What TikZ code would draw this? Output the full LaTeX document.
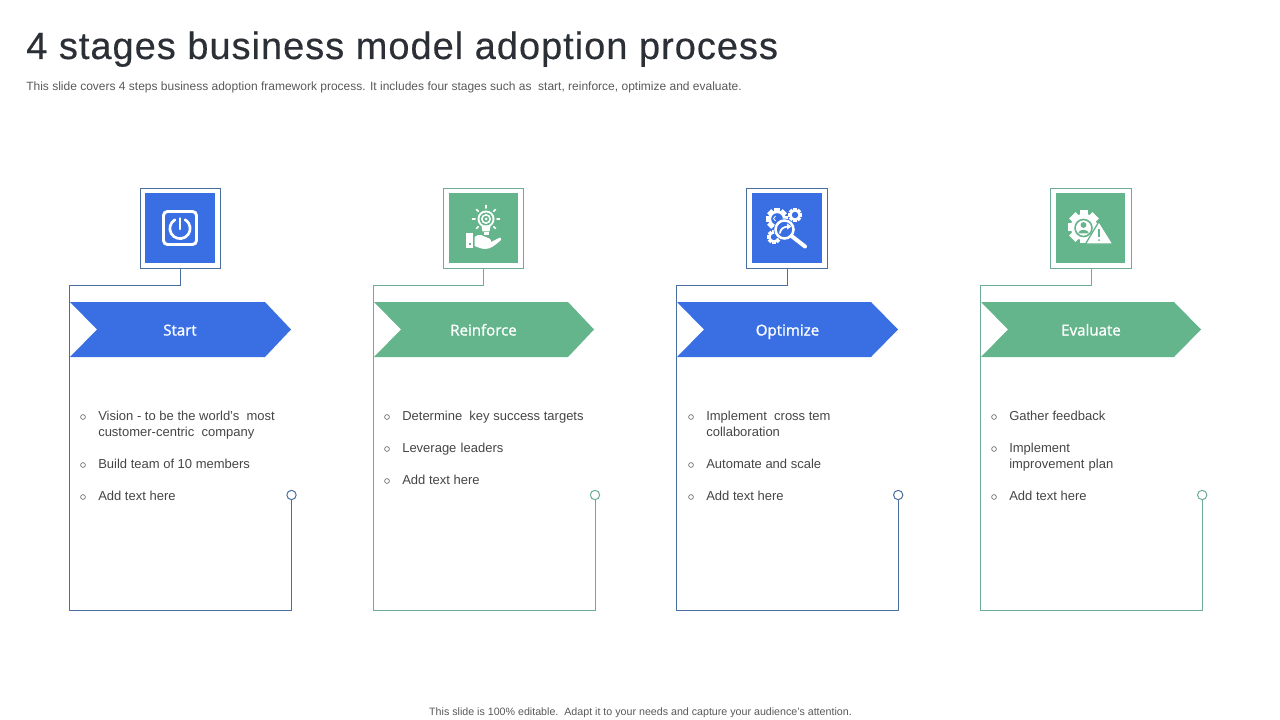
\documentclass[tikz,border=0pt]{standalone}
\usepackage{fontspec}
\setmainfont{Liberation Sans}
\newfontfamily\titlefont[LetterSpace=2.6,FakeBold=0.4]{Liberation Sans}
\newfontfamily\labelfont[FakeBold=1.2]{Open Sans}
\definecolor{cblue}{HTML}{3A6FE4}
\definecolor{cgreen}{HTML}{65B58C}
\definecolor{lblue}{HTML}{4A6E9F}
\definecolor{lgreen}{HTML}{6DAA98}
\definecolor{ink}{HTML}{454545}
\definecolor{subink}{HTML}{595959}
\definecolor{titleink}{HTML}{2B2F36}
\newcommand{\gearshape}[5]{% x,y,outer r,hole r,hole colour
  \foreach \a in {0,45,...,315}{
    \fill[white,rotate around={\a:(#1,#2)}] (#1-#3*0.27,#2-#3) rectangle (#1+#3*0.27,#2);
  }
  \fill[white] (#1,#2) circle[radius=#3*0.8];
  \fill[#5] (#1,#2) circle[radius=#4];
}
\tikzset{
  iconframe/.style={draw=#1,line width=0.8pt,minimum size=60.5pt,inner sep=0pt,fill=white},
  iconfill/.style={fill=#1,minimum size=52pt,inner sep=0pt},
  frameline/.style={draw=#1,line width=0.75pt},
  chevron/.style={fill=#1},
  stagelabel/.style={anchor=base,inner sep=0pt,text=white,font=\labelfont\fontsize{11.3}{13}\selectfont},
  body/.style={anchor=base west,text=ink,inner sep=0pt,font=\fontsize{9.75}{11}\selectfont},
  bulletdot/.style={circle,draw=subink,line width=0.45pt,minimum size=3.6pt,inner sep=0pt},
  endring/.style={circle,draw=#1,line width=0.75pt,fill=white,minimum size=7pt,inner sep=0pt},
  iconline/.style={draw=white,line cap=round,line width=#1},
}
\begin{document}
\begin{tikzpicture}[x=0.75pt,y=-0.75pt]
\useasboundingbox (0,0) rectangle (1280,720);

\node[anchor=base west,inner sep=0pt,text=titleink,font=\titlefont\fontsize{28.5}{32}\selectfont] (title) at (26,59) {4 stages business model adoption process};
\node[anchor=base west,inner sep=0pt,text=subink,font=\fontsize{9}{11}\selectfont] (sub) at (26,91) {This slide covers 4 steps business adoption framework process. It includes four stages such as\ \ start, reinforce, optimize and evaluate.};
\node[anchor=base,inner sep=0pt,text=subink,font=\fontsize{8}{10}\selectfont] (foot) at (640.5,715) {This slide is 100\% editable.\ \ Adapt it to your needs and capture your audience's attention.};

% Stage 1
\node[iconframe=lblue] (box1) at (180.5,228.5) {};
\node[iconfill=cblue] (fill1) at (180,228) {};
\coordinate (c1a) at (180.5,285); \coordinate (c1b) at (69.5,285);
\coordinate (c1c) at (69.5,610.5); \coordinate (c1d) at (291.5,610.5);
\node[endring=lblue] (end1) at (291.5,495) {};
\draw[frameline=lblue] (box1.south) -- (c1a) -- (c1b) -- (c1c) -- (c1d) -- (end1.south);
\fill[chevron=cblue] (70,302) -- (265,302) -- (291,329.5) -- (265,357) -- (70,357) -- (97,329.5) -- cycle;
\node[stagelabel] (lab1) at (180,335.5) {Start};

% Stage 2
\node[iconframe=lgreen] (box2) at (483.5,228.5) {};
\node[iconfill=cgreen] (fill2) at (483.5,228) {};
\coordinate (c2a) at (483.5,285); \coordinate (c2b) at (373.5,285);
\coordinate (c2c) at (373.5,610.5); \coordinate (c2d) at (595,610.5);
\node[endring=lgreen] (end2) at (595,495) {};
\draw[frameline=lgreen] (box2.south) -- (c2a) -- (c2b) -- (c2c) -- (c2d) -- (end2.south);
\fill[chevron=cgreen] (374,302) -- (568,302) -- (594,329.5) -- (568,357) -- (374,357) -- (401,329.5) -- cycle;
\node[stagelabel] (lab2) at (483.5,335.5) {Reinforce};

% Stage 3
\node[iconframe=lblue] (box3) at (787,228.5) {};
\node[iconfill=cblue] (fill3) at (787,228) {};
\coordinate (c3a) at (787,285); \coordinate (c3b) at (676.5,285);
\coordinate (c3c) at (676.5,610.5); \coordinate (c3d) at (898.2,610.5);
\node[endring=lblue] (end3) at (898.2,495) {};
\draw[frameline=lblue] (box3.south) -- (c3a) -- (c3b) -- (c3c) -- (c3d) -- (end3.south);
\fill[chevron=cblue] (677,302) -- (871,302) -- (898,329.5) -- (871,357) -- (677,357) -- (704,329.5) -- cycle;
\node[stagelabel] (lab3) at (787.5,335.5) {Optimize};

% Stage 4
\node[iconframe=lgreen] (box4) at (1091,228.5) {};
\node[iconfill=cgreen] (fill4) at (1090.5,228) {};
\coordinate (c4a) at (1091,285); \coordinate (c4b) at (980.5,285);
\coordinate (c4c) at (980.5,610.5); \coordinate (c4d) at (1202.2,610.5);
\node[endring=lgreen] (end4) at (1202.2,495) {};
\draw[frameline=lgreen] (box4.south) -- (c4a) -- (c4b) -- (c4c) -- (c4d) -- (end4.south);
\fill[chevron=cgreen] (981,302) -- (1174,302) -- (1201,329.5) -- (1174,357) -- (981,357) -- (1008,329.5) -- cycle;
\node[stagelabel] (lab4) at (1091,335.5) {Evaluate};

% Icon 1: power button
\draw[draw=white,line width=2.2pt,rounded corners=3pt] (163.5,211.5) rectangle (196.5,244.5);
\draw[iconline=2pt] (180,228.5) ++(120:7.6pt) arc[start angle=120,end angle=420,radius=7.6pt];
\draw[iconline=2pt] (180,218.5) -- (180,229);

% Icon 2: bulb over hand
\fill[white] (486,219) circle[radius=8.5];
\fill[cgreen] (486,219) circle[radius=6.5];
\fill[white] (486,219) circle[radius=5];
\fill[cgreen] (486,219) circle[radius=3.2];
\fill[white] (486,219) circle[radius=1.5];
\fill[white] (481.5,226) -- (490.5,226) -- (489.5,231.5) -- (482.5,231.5) -- cycle;
\fill[white] (483.5,232.5) rectangle (488.5,235);
\foreach \a in {0,45,90,135,225,270,315}{
  \draw[iconline=1.1pt] (486,219) ++(\a+90:8.2pt) -- ++(\a+90:2pt);
}
\fill[white] (466,233) rectangle (473,248);
\fill[white] (474.5,237) .. controls (477,235) and (479,234.5) .. (481,235) -- (488,238) .. controls (491,239) and (491.5,241) .. (491,242) -- (500,237.5) .. controls (501.5,238) and (501.5,239.5) .. (500.5,240.5) .. controls (495,245) and (491,249) .. (485,249) .. controls (481,249) and (478,247) .. (474.5,246) -- cycle;
\fill[cgreen] (468.5,243) rectangle (470.5,245);

% Icon 3: gears and magnifier
\gearshape{777}{219}{11}{5.8}{cblue}
\draw[draw=white,line width=0.6pt] (775.5,216) -- (773.5,218.5) -- (775.5,221);
\gearshape{795}{215}{7}{3.2}{cblue}
\gearshape{774}{237}{7}{3.2}{cblue}
\fill[cblue] (784.5,229.5) circle[radius=11];
\draw[draw=white,line width=1.9pt] (784.5,229.5) circle[radius=9];
\draw[iconline=3pt] (791.5,236) -- (805,246.5);
\draw[iconline=1.3pt] (780,233) .. controls (780.5,229) and (783,227) .. (788,226.5);
\fill[white] (787,223.5) -- (791.5,226.5) -- (787,229.5) -- cycle;

% Icon 4: gear, person, warning
\gearshape{1084}{227}{16.5}{0}{white}
\draw[draw=cgreen,line width=1.2pt] (1083.5,228) circle[radius=8.5];
\fill[cgreen] (1083.5,225) circle[radius=2.9];
\fill[cgreen] (1078,233.5) .. controls (1078.5,228.5) and (1088.5,228.5) .. (1089,233.5) -- cycle;
\fill[white,draw=cgreen,line width=1pt,line join=round] (1099,221.5) -- (1113,244) -- (1085.5,244) -- cycle;
\draw[draw=cgreen,line width=1.5pt] (1099,229.5) -- (1099,237.5);
\fill[cgreen] (1099,240.2) circle[radius=1];

% Column 1 text
\node[bulletdot] (b11) at (83,417) {};
\node[body] (t11) at (98,420) {Vision - to be the world's\ \ most};
\node[body] (t12) at (98,436) {customer-centric\ \ company};
\node[bulletdot] (b12) at (83,465) {};
\node[body] (t13) at (98,468) {Build team of 10 members};
\node[bulletdot] (b13) at (83,497) {};
\node[body] (t14) at (98,500) {Add text here};

% Column 2 text
\node[bulletdot] (b21) at (387,417) {};
\node[body] (t21) at (402,420) {Determine\ \ key success targets};
\node[bulletdot] (b22) at (387,449) {};
\node[body] (t22) at (402,452) {Leverage\hspace{3.2pt}leaders};
\node[bulletdot] (b23) at (387,481) {};
\node[body] (t23) at (402,484) {Add text here};

% Column 3 text
\node[bulletdot] (b31) at (691,417) {};
\node[body] (t31) at (706,420) {Implement\ \ cross tem};
\node[body] (t32) at (706,436) {collaboration};
\node[bulletdot] (b32) at (691,465) {};
\node[body] (t33) at (706,468) {Automate and scale};
\node[bulletdot] (b33) at (691,497) {};
\node[body] (t34) at (706,500) {Add text here};

% Column 4 text
\node[bulletdot] (b41) at (994,417) {};
\node[body] (t41) at (1009,420) {Gather feedback};
\node[bulletdot] (b42) at (994,449) {};
\node[body] (t42) at (1009,452) {Implement};
\node[body] (t43) at (1009,468) {improvement\hspace{3.2pt}plan};
\node[bulletdot] (b43) at (994,497) {};
\node[body] (t44) at (1009,500) {Add text here};
\end{tikzpicture}
\end{document}
